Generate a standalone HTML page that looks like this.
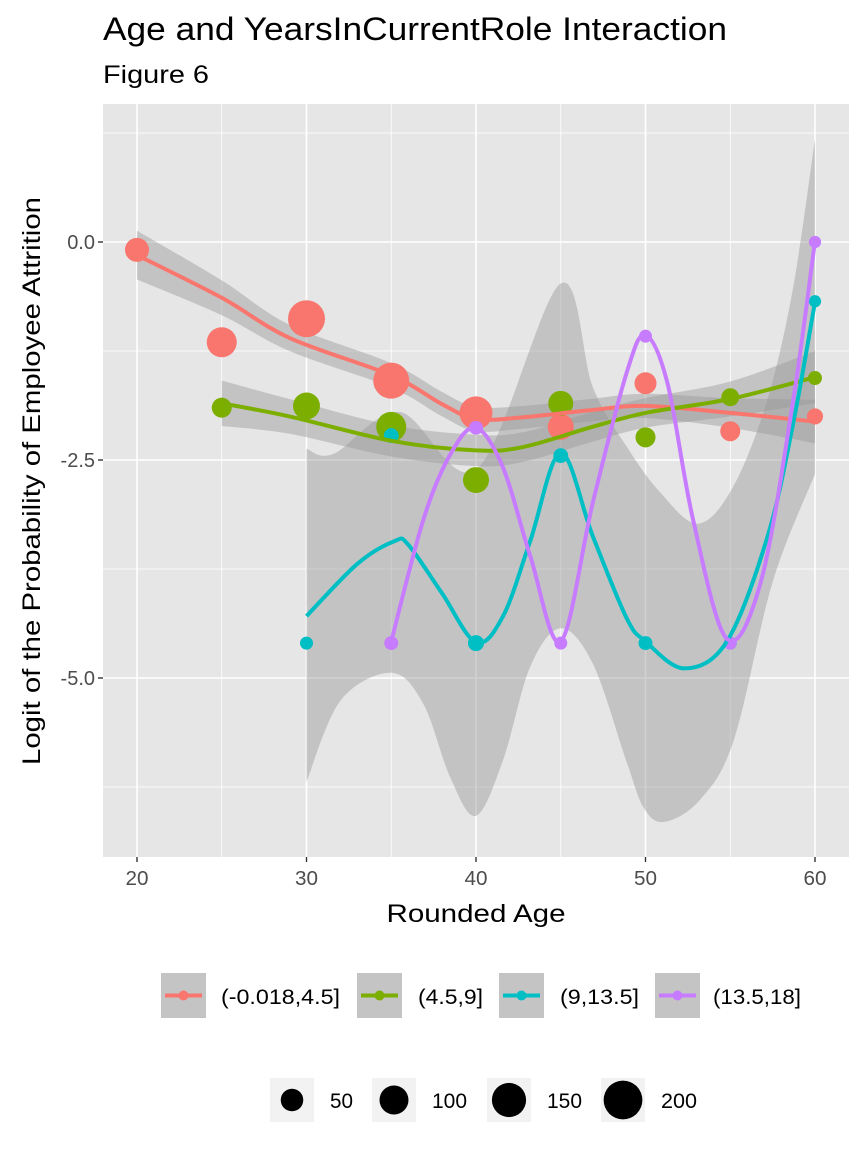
<!DOCTYPE html>
<html><head><meta charset="utf-8">
<style>
html,body{margin:0;padding:0;background:#fff;}
svg text{font-family:"Liberation Sans",Arial,sans-serif;}
</style></head>
<body>
<svg id="chart" width="864" height="1152" viewBox="0 0 864 1152" xmlns="http://www.w3.org/2000/svg">
<rect width="864" height="1152" fill="#ffffff"/>
<text x="103" y="40" font-size="32" textLength="624" lengthAdjust="spacingAndGlyphs" fill="#000">Age and YearsInCurrentRole Interaction</text>
<text x="103" y="83" font-size="25" textLength="106" lengthAdjust="spacingAndGlyphs" fill="#000">Figure 6</text>
<rect x="103" y="104" width="746" height="753" fill="#E6E6E6"/>
<g id="grid"></g>
<g id="ribbons"></g>
<g id="points"></g>
<g id="lines"></g>
<g id="axes"></g>
<text x="476" y="922" font-size="25" text-anchor="middle" textLength="179" lengthAdjust="spacingAndGlyphs" fill="#000">Rounded Age</text>
<text transform="translate(40,481) rotate(-90)" font-size="25" text-anchor="middle" textLength="568" lengthAdjust="spacingAndGlyphs" fill="#000">Logit of the Probability of Employee Attrition</text>
<g id="legend"></g>
</svg>
<script>
const categories = ["(-0.018,4.5]","(4.5,9]","(9,13.5]","(13.5,18]"];
const colors = ["#F8766D","#7CAE00","#00BFC4","#C77CFF"];
const lineColors = ["#F8766D","#7CAE00","#00BFC4","#C77CFF"];
const xTicks = [20,30,40,50,60];
const xMinor = [25,35,45,55];
const yTicks = [0,-2.5,-5];
const yTickLabels = ["0.0","-2.5","-5.0"];
const yMinor = [1.25,-1.25,-3.75,-6.25];

const redAges = [20,25,30,35,40,45,50,55,60];
const redLogit = [-0.09,-1.15,-0.88,-1.59,-1.96,-2.12,-1.62,-2.17,-2.0];
const redCount = [68,118,191,180,148,83,53,40,18];
const greenAges = [25,30,35,40,45,50,55,60];
const greenLogit = [-1.9,-1.88,-2.12,-2.73,-1.85,-2.24,-1.78,-1.56];
const greenCount = [40,91,118,83,75,40,28,8];
const tealAges = [30,35,40,45,50,55,60];
const tealLogit = [-4.6,-2.22,-4.6,-2.45,-4.6,-4.6,-0.68];
const tealCount = [4,12,18,12,8,4,1];
const purpleAges = [35,40,45,50,55,60];
const purpleLogit = [-4.6,-2.13,-4.6,-1.08,-4.6,0.0];
const purpleCount = [8,8,4,4,4,1];

const redFitAge = [20,25,29,35,38,40,42.8,46.7,50,55,60];
const redFit = [-0.15,-0.64,-1.10,-1.53,-1.86,-2.03,-2.01,-1.93,-1.88,-1.96,-2.06];
const redSe = [0.28,0.2,0.15,0.14,0.14,0.14,0.13,0.13,0.14,0.17,0.25];
const greenFitAge = [25,29,35,40,42.8,46.7,50,55,60];
const greenFit = [-1.85,-2.0,-2.28,-2.39,-2.35,-2.13,-1.96,-1.80,-1.55];
const greenSe = [0.26,0.2,0.18,0.18,0.17,0.17,0.17,0.2,0.3];
const tealFitAge = [30,33,35.2,36,38,40,41.6,43.2,45,46.9,48.9,50,52.3,54.8,57.2,58.7,60];
const tealFit = [-4.29,-3.69,-3.43,-3.47,-4.03,-4.59,-4.29,-3.43,-2.42,-3.38,-4.32,-4.58,-4.89,-4.58,-3.38,-2.09,-0.69];
const tealUpAge = [30,31.6,35.5,40.06,44.96,46.9,48.9,50.86,53.1,55.16,57.17,58.7,60];
const tealUp = [-2.37,-2.43,-1.95,-2.60,-0.48,-1.67,-2.35,-2.87,-3.23,-2.81,-1.82,-0.53,1.18];
const tealLoAge = [30,32,35,36.9,38.5,40,41.6,43.2,45,46.9,48.9,49.9,51.1,53.2,55.2,57.5,60];
const tealLo = [-6.19,-5.26,-4.94,-5.30,-6.15,-6.58,-5.94,-4.87,-4.43,-4.84,-5.97,-6.49,-6.65,-6.40,-5.72,-3.90,-2.66];
const purpleFitAge = [35,36.9,38.5,40,41.6,43.2,45,46.9,48.9,50,51.3,52.8,54.8,56.8,58.7,60];
const purpleFit = [-4.58,-3.18,-2.43,-2.13,-2.59,-3.6,-4.58,-2.98,-1.49,-1.07,-1.62,-3.18,-4.55,-3.9,-1.83,0.01];

const sizeLegendValues = [50,100,150,200];

const NS="http://www.w3.org/2000/svg";
const px0=103,px1=849,py0=104,py1=857;
function xs(a){return 137+(a-20)*16.95;}
function ys(v){return 242-v*87.2;}
function rs(n){return Math.sqrt(36+1.6*n);}
function mk(tag,attrs,parent){const e=document.createElementNS(NS,tag);for(const k in attrs)e.setAttribute(k,attrs[k]);parent.appendChild(e);return e;}
function smoothPath(pts,move){
  let d=(move?"M":"L")+pts[0][0].toFixed(1)+","+pts[0][1].toFixed(1);
  for(let i=0;i<pts.length-1;i++){
    const p0=pts[i-1]||pts[i],p1=pts[i],p2=pts[i+1],p3=pts[i+2]||p2;
    const c1=[p1[0]+(p2[0]-p0[0])/6,p1[1]+(p2[1]-p0[1])/6];
    const c2=[p2[0]-(p3[0]-p1[0])/6,p2[1]-(p3[1]-p1[1])/6];
    d+=" C"+c1[0].toFixed(1)+","+c1[1].toFixed(1)+" "+c2[0].toFixed(1)+","+c2[1].toFixed(1)+" "+p2[0].toFixed(1)+","+p2[1].toFixed(1);
  }
  return d;
}
const grid=document.getElementById('grid');
xMinor.forEach(a=>{const l=mk('line',{x1:xs(a),x2:xs(a),y1:py0,y2:py1,stroke:'#fff','stroke-width':0.8},grid);

});
yMinor.forEach(v=>{const l=mk('line',{x1:px0,x2:px1,y1:ys(v),y2:ys(v),stroke:'#fff','stroke-width':0.8},grid);

});
xTicks.forEach(a=>{const l=mk('line',{x1:xs(a),x2:xs(a),y1:py0,y2:py1,stroke:'#fff','stroke-width':1.6},grid);

});
yTicks.forEach(v=>{const l=mk('line',{x1:px0,x2:px1,y1:ys(v),y2:ys(v),stroke:'#fff','stroke-width':1.6},grid);

});

const axes=document.getElementById('axes');
xTicks.forEach(a=>{
  mk('line',{x1:xs(a),x2:xs(a),y1:py1,y2:py1+5,stroke:'#333','stroke-width':1.4},axes);
  const t=mk('text',{x:xs(a),y:885,'font-size':20,'text-anchor':'middle',textLength:23,lengthAdjust:'spacingAndGlyphs',fill:'#4D4D4D'},axes);
  t.textContent=a;
  
  
});
yTicks.forEach((v,i)=>{
  mk('line',{x1:px0-5,x2:px0,y1:ys(v),y2:ys(v),stroke:'#333','stroke-width':1.4},axes);
  const t=mk('text',{x:px0-8,y:ys(v)+7,'font-size':20,'text-anchor':'end',fill:'#4D4D4D'},axes);
  t.textContent=yTickLabels[i];
  
  
});

const pg=document.getElementById('points');
const pointSets=[[redAges,redLogit,redCount],[greenAges,greenLogit,greenCount],[tealAges,tealLogit,tealCount],[purpleAges,purpleLogit,purpleCount]];
pointSets.forEach((s,k)=>{
  s[0].forEach((a,i)=>{
    const c=mk('circle',{cx:xs(a),cy:ys(s[1][i]),r:rs(s[2][i]),fill:colors[k]},pg);
    
    
  });
});

const rg=document.getElementById('ribbons');
function ribbon(upA,upV,loA,loV,name){
  const up=upA.map((a,i)=>[xs(a),ys(upV[i])]);
  const lo=loA.map((a,i)=>[xs(a),ys(loV[i])]).reverse();
  const d=smoothPath(up,true)+" "+smoothPath(lo,false)+" Z";
  const p=mk('path',{d:d,fill:'#999999','fill-opacity':0.45},rg);
  
  
}
ribbon(redFitAge,redFit.map((v,i)=>v+redSe[i]),redFitAge,redFit.map((v,i)=>v-redSe[i]),'ribbon-red');
ribbon(greenFitAge,greenFit.map((v,i)=>v+greenSe[i]),greenFitAge,greenFit.map((v,i)=>v-greenSe[i]),'ribbon-green');
ribbon(tealUpAge,tealUp,tealLoAge,tealLo,'ribbon-teal');

const lg=document.getElementById('lines');
[[redFitAge,redFit],[greenFitAge,greenFit],[tealFitAge,tealFit],[purpleFitAge,purpleFit]].forEach((s,k)=>{
  const pts=s[0].map((a,i)=>[xs(a),ys(s[1][i])]);
  const p=mk('path',{d:smoothPath(pts,true),fill:'none',stroke:lineColors[k],'stroke-width':4,'stroke-linecap':'butt'},lg);
  
  
});

const leg=document.getElementById('legend');
const boxX=[161,357,499,655], labX=[221,418,560,713], labW=[119,65,79,88];
categories.forEach((c,k)=>{
  const r=mk('rect',{x:boxX[k],y:973,width:45,height:45,fill:'#C4C4C4'},leg);
  
  
  mk('line',{x1:boxX[k]+4,x2:boxX[k]+41,y1:995.5,y2:995.5,stroke:lineColors[k],'stroke-width':4},leg);
  mk('circle',{cx:boxX[k]+22.5,cy:995.5,r:5,fill:colors[k]},leg);
  const t=mk('text',{x:labX[k],y:1004,'font-size':21,textLength:labW[k],lengthAdjust:'spacingAndGlyphs',fill:'#000'},leg);
  t.textContent=c;
  
  
});
const sbx=[270,372,487,601], slx=[330,432,547,661], slw=[23,35,35,36];
sizeLegendValues.forEach((v,k)=>{
  const r=mk('rect',{x:sbx[k],y:1078,width:44,height:44,fill:'#F2F2F2'},leg);
  
  
  mk('circle',{cx:sbx[k]+22,cy:1100,r:rs(v)+0.5,fill:'#000'},leg);
  const t=mk('text',{x:slx[k],y:1108,'font-size':21,textLength:slw[k],lengthAdjust:'spacingAndGlyphs',fill:'#000'},leg);
  t.textContent=v;
  
  
});
</script>
</body></html>
